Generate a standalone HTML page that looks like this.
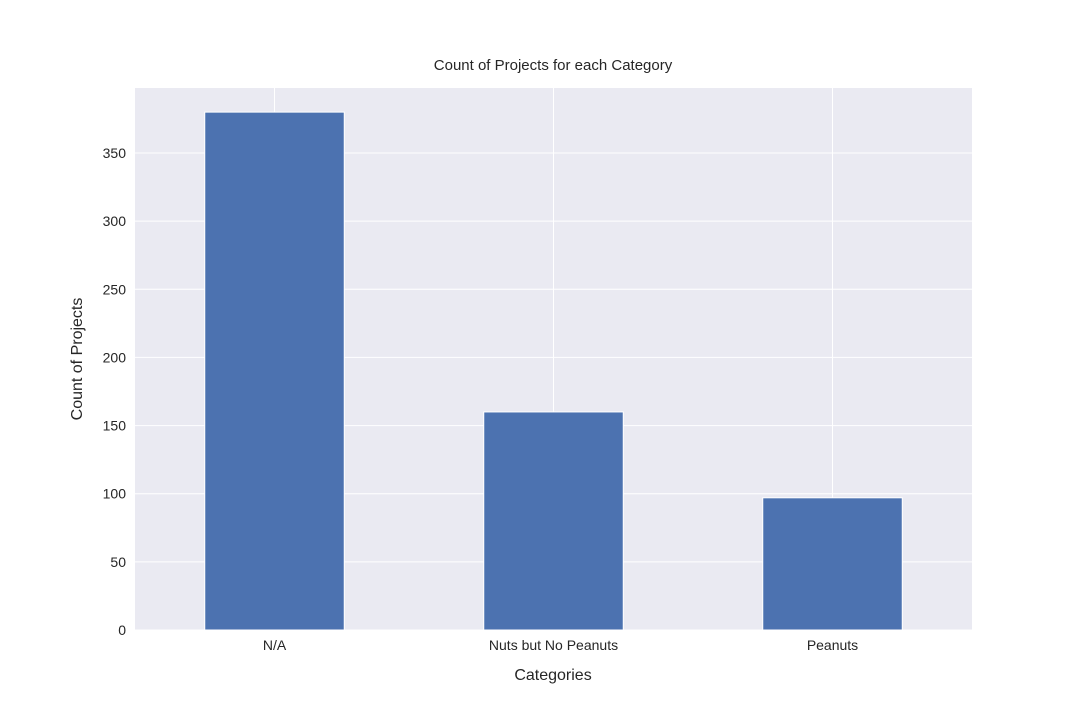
<!DOCTYPE html>
<html><head><meta charset="utf-8"><style>
body{margin:0;background:#fff;}
svg text{font-family:"Liberation Sans","DejaVu Sans",sans-serif;fill:#262626;}
</style></head><body>
<svg id="chart" width="1080" height="720" xmlns="http://www.w3.org/2000/svg">
<rect x="0" y="0" width="1080" height="720" fill="#fff"/>
<rect x="135" y="88" width="837" height="542" fill="#eaeaf2"/>
<g id="grid"></g><g id="bars"></g><g id="ticks"></g>
<text x="553" y="70" text-anchor="middle" font-size="15">Count of Projects for each Category</text>
<text x="553" y="680" text-anchor="middle" font-size="16">Categories</text>
<text transform="translate(82,359) rotate(-90)" text-anchor="middle" font-size="16">Count of Projects</text>
</svg>
<script>
const categories=["N/A","Nuts but No Peanuts","Peanuts"];
const counts=[380,160,97];
const yTicks=[0,50,100,150,200,250,300,350];
const NS="http://www.w3.org/2000/svg";
const L=135,R=972,T=88,B=630,yMax=397.7;
const y=v=>B-(v/yMax)*(B-T);
const step=(R-L)/categories.length;
const x=i=>L+step*(i+0.5);
function mk(tag,attrs,parent){const e=document.createElementNS(NS,tag);for(const k in attrs)e.setAttribute(k,attrs[k]);document.getElementById(parent).appendChild(e);return e;}
yTicks.forEach(v=>{
 const g=mk("line",{x1:L,x2:R,y1:y(v),y2:y(v),stroke:"#fff","stroke-width":1},"grid");
 
 
 const t=mk("text",{x:L-9,y:y(v)+5,"text-anchor":"end","font-size":"14"},"ticks");
 t.textContent=v;
 
 
});
categories.forEach((c,i)=>{
 const g=mk("line",{x1:x(i),x2:x(i),y1:T,y2:B,stroke:"#fff","stroke-width":1},"grid");
 
 
 const w=step*0.5;
 const b=mk("rect",{x:x(i)-w/2,y:y(counts[i]),width:w,height:B-y(counts[i]),fill:"#4c72b0",stroke:"#fff","stroke-width":1},"bars");
 
 
 const t=mk("text",{x:x(i),y:B+20,"text-anchor":"middle","font-size":"14"},"ticks");
 t.textContent=c;
 
 
});
</script>
</body></html>
